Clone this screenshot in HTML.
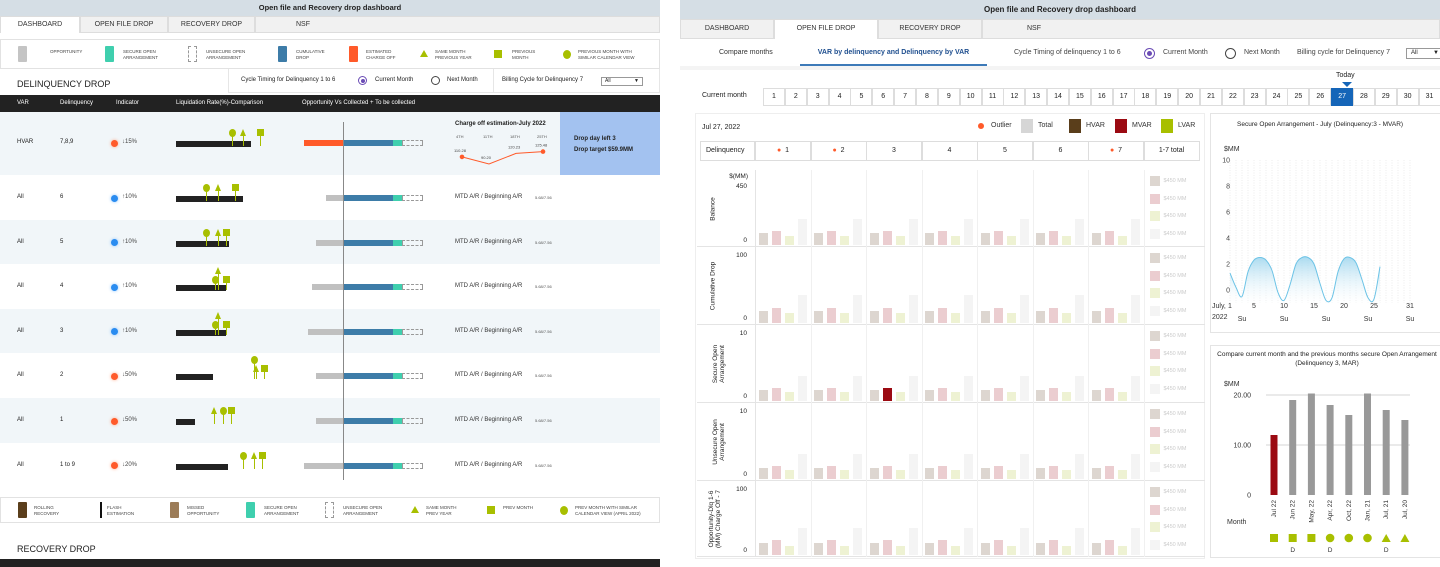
<!DOCTYPE html>
<html><head><meta charset="utf-8">
<style>
*{box-sizing:border-box;margin:0;padding:0}
body{width:1440px;height:567px;overflow:hidden;background:#fff;font-family:"Liberation Sans",sans-serif;color:#222;position:relative}
.a{position:absolute;white-space:nowrap}
.tab{position:absolute;background:#f1f1f1;border:1px solid #ddd;font-size:7px;text-align:center;color:#333}
.s{font-size:7px}
</style></head><body>
<!-- LEFT PANEL -->
<div class="a" style="left:0;top:0;width:660px;height:16px;background:#d5dee5;font-size:7.5px;font-weight:bold;text-align:center;line-height:16px">Open file and Recovery drop dashboard</div>
<div class="tab" style="left:0;top:16px;width:80px;height:17px;line-height:15px;background:#fff;border-bottom:none">DASHBOARD</div>
<div class="tab" style="left:80px;top:16px;width:88px;height:17px;line-height:15px">OPEN FILE DROP</div>
<div class="tab" style="left:168px;top:16px;width:87px;height:17px;line-height:15px">RECOVERY DROP</div>
<div class="tab" style="left:255px;top:16px;width:405px;height:17px;line-height:15px;text-align:left;padding-left:40px">NSF</div>
<div class="a" style="left:0;top:39px;width:660px;height:30px;border:1px solid #e2e2e2"></div>
<div class="a" id="toplg"></div>
<div class="a" style="left:17px;top:79px;font-size:9px">DELINQUENCY DROP</div>
<div class="a" style="left:228px;top:69px;width:432px;height:24px;border:1px solid #e6e6e6;border-top:none"></div>
<div class="a" style="left:493px;top:69px;width:1px;height:24px;background:#e6e6e6"></div>
<div class="a s" style="left:241px;top:77px;font-size:6px">Cycle Timing for Delinquency 1 to 6</div>
<div class="a" style="left:358px;top:76px;width:9px;height:9px;border:1px solid #6a4bb5;border-radius:50%"><div style="margin:1.5px;width:4px;height:4px;border-radius:50%;background:#6a4bb5"></div></div>
<div class="a" style="left:375px;top:77px;font-size:6px">Current Month</div>
<div class="a" style="left:431px;top:76px;width:9px;height:9px;border:1px solid #444;border-radius:50%"></div>
<div class="a" style="left:447px;top:77px;font-size:6px">Next Month</div>
<div class="a" style="left:502px;top:77px;font-size:6px">Billing Cycle for Delinquency 7</div>
<div class="a" style="left:601px;top:77px;width:42px;height:9px;border:1px solid #999;font-size:5px;line-height:7px;padding-left:3px">All<span style="position:absolute;right:3px">▼</span></div>
<div class="a" style="left:0;top:95px;width:660px;height:17px;background:#222;color:#fff;font-size:6px;line-height:17px">
<span class="a" style="left:17px">VAR</span><span class="a" style="left:60px">Delinquency</span><span class="a" style="left:116px">Indicator</span><span class="a" style="left:176px">Liquidation Rate(%)-Comparison</span><span class="a" style="left:302px">Opportunity Vs Collected + To be collected</span></div>
<div id="rows"></div>
<div class="a" style="left:560px;top:112px;width:100px;height:63px;background:#a3c2f0;font-size:6px;font-weight:bold;padding:22px 0 0 14px;line-height:11px">Drop day left 3<br>Drop target $59.9MM</div>
<div class="a" style="left:455px;top:121px;font-size:6px;font-weight:bold">Charge off estimation-July 2022</div>
<svg class="a" style="left:440px;top:130px" width="120" height="45" id="co"></svg>
<div class="a" style="left:343px;top:122px;width:1px;height:358px;background:#888"></div>
<div class="a" style="left:0;top:497px;width:660px;height:26px;border:1px solid #e2e2e2"></div>
<div class="a" id="botlg"></div>
<div class="a" style="left:17px;top:544px;font-size:9px">RECOVERY DROP</div>
<div class="a" style="left:0;top:559px;width:660px;height:8px;background:#222"></div>

<!-- RIGHT PANEL -->
<div class="a" style="left:680px;top:0;width:760px;height:19px;background:#d5dee5;font-size:8px;font-weight:bold;text-align:center;line-height:19px">Open file and Recovery drop dashboard</div>
<div class="tab" style="left:680px;top:19px;width:94px;height:20px;line-height:18px">DASHBOARD</div>
<div class="tab" style="left:774px;top:19px;width:104px;height:20px;line-height:18px;background:#fff;border-bottom:none">OPEN FILE DROP</div>
<div class="tab" style="left:878px;top:19px;width:104px;height:20px;line-height:18px">RECOVERY DROP</div>
<div class="tab" style="left:982px;top:19px;width:458px;height:20px;line-height:18px;text-align:left;padding-left:44px">NSF</div>
<div class="a" style="left:680px;top:66px;width:760px;height:4px;background:#f4f4f4"></div>
<div class="a" style="left:719px;top:49px;font-size:7px;color:#333">Compare months</div>
<div class="a" style="left:800px;top:49px;width:187px;height:17px;font-size:7px;font-weight:bold;color:#1f4f8f;text-align:center;border-bottom:2px solid #3d7ab8">VAR by delinquency and Delinquency by VAR</div>
<div class="a" style="left:1014px;top:49px;font-size:7px;color:#444">Cycle Timing of delinquency 1 to 6</div>
<div class="a" style="left:1144px;top:48px;width:11px;height:11px;border:1px solid #6a4bb5;border-radius:50%"><div style="margin:2px;width:5px;height:5px;border-radius:50%;background:#6a4bb5"></div></div>
<div class="a" style="left:1163px;top:49px;font-size:7px;color:#444">Current Month</div>
<div class="a" style="left:1225px;top:48px;width:11px;height:11px;border:1px solid #444;border-radius:50%"></div>
<div class="a" style="left:1244px;top:49px;font-size:7px;color:#444">Next Month</div>
<div class="a" style="left:1297px;top:49px;font-size:7px;color:#444">Billing cycle for Delinquency 7</div>
<div class="a" style="left:1406px;top:48px;width:40px;height:11px;border:1px solid #999;font-size:6px;line-height:9px;padding-left:4px">All<span style="position:absolute;left:26px">▼</span></div>
<div class="a" style="left:702px;top:92px;font-size:7px">Current month</div>
<div class="a" id="days"></div>
<div class="a" style="left:1336px;top:72px;font-size:7px">Today</div>
<div class="a" style="left:1342px;top:82px;width:0;height:0;border-left:5px solid transparent;border-right:5px solid transparent;border-top:5px solid #1565b8"></div>

<div class="a" style="left:695px;top:113px;width:510px;height:446px;border:1px solid #eee"></div>
<div class="a" style="left:702px;top:124px;font-size:7px">Jul 27, 2022</div>
<div class="a" id="mlg" style="left:0;top:0"></div>
<div class="a" id="dhdr"></div>
<div class="a" id="grid"></div>

<div class="a" style="left:1210px;top:113px;width:232px;height:220px;border:1px solid #e4e4e4"></div>
<div class="a" style="left:1237px;top:121px;font-size:6.5px">Secure Open Arrangement - July (Delinquency:3 - MVAR)</div>
<svg class="a" style="left:1210px;top:113px" width="230" height="220" id="dc"></svg>
<div class="a" style="left:1210px;top:345px;width:232px;height:213px;border:1px solid #e4e4e4"></div>
<div class="a" style="left:1214px;top:350px;width:226px;font-size:6.5px;text-align:center;white-space:normal;line-height:9px">Compare current month and the previous months secure Open Arrangement (Delinquency 3, MAR)</div>
<svg class="a" style="left:1210px;top:345px" width="230" height="213" id="cc"></svg>

<script>
// ---- left table data ----
const rowVar=["All","All","All","All","All","All","All"];
const rowDelq=["6","5","4","3","2","1","1 to 9"];
const rowInd=["↑10%","↑10%","↑10%","↑10%","↓50%","↓50%","↓20%"];
const rowUp=[1,1,1,1,0,0,0];
const liqRate=[67,53,50,50,37,19,52];
const oppVal=[17,27,31,35,27,27,39];
// ---- charge-off data ----
const coLabels=["4TH","11TH","18TH","25TH"];
const coVals=[110.28,90.2,120.23,125.48];
// ---- right grid ----
const delqCols=["1","2","3","4","5","6","7","1-7 total"];
const outlierCols=[1,1,0,0,0,0,1,0];
const metrics=["Balance","Cumulative Drop","Secure Open Arrangement","Unsecure Open Arrangement","Opportunity-Dlq 1-6 (MM) Charge Off - 7"];
const metricMax=[450,100,10,10,100];
const hvarVals=[95,22,2,2,22];
const mvarVals=[115,27,2.4,2.4,27];
const lvarVals=[75,17,1.6,1.6,17];
const totalVals=[215,50,4.5,4.5,50];
const highlightRow=2, highlightCol=2;
// ---- daily chart ----
const dayVals=[1.3,0.2,-0.5,1.4,2.3,2.5,2.3,1.5,-0.2,-0.8,0.4,2.0,2.5,2.5,2.0,0.5,-0.8,-0.6,1.4,2.4,2.5,2.1,0.8,-0.6,-0.7,1.8];
const dayTicks=[0,2,4,6,8,10];
// ---- compare chart ----
const cmpMonths=["Jul 22","Jun 22","May, 22","Apr, 22","Oct, 22","Jan, 21","Jul, 21","Jul, 20"];
const cmpVals=[12,19,20.3,18,16,20.3,17,15];
const cmpMarks=["sq","sq","sq","ci","ci","ci","tr","tr"];
const cmpD=["","D","","D","","","D",""];

const NS="http://www.w3.org/2000/svg";
function div(parent,css,txt){const d=document.createElement('div');d.className='a';d.style.cssText=css;if(txt!=null)d.textContent=txt;parent.appendChild(d);return d;}
function sv(p,tag,at){const e=document.createElementNS(NS,tag);for(const k in at)e.setAttribute(k,at[k]);p.appendChild(e);return e;}
const G='#a8bf00';

// legends
const topItems=[["sw","#c4c4c4","","OPPORTUNITY",18,50],["sw","#3fcfae","","SECURE OPEN\nARRANGEMENT",105,123],["dash","","","UNSECURE OPEN\nARRANGEMENT",188,206],["sw","#3d7ca8","","CUMULATIVE\nDROP",278,296],["sw","#ff5a2a","","ESTIMATED\nCHARGE OFF",349,366],["tr","","","SAME MONTH\nPREVIOUS YEAR",420,435],["sq","","","PREVIOUS\nMONTH",494,512],["ci","","","PREVIOUS MONTH WITH\nSIMILAR CALENDAR VIEW",563,578]];
const botItems=[["sw","#5a3e1b","","ROLLING\nRECOVERY",18,34],["ln","","","FLASH\nESTIMATION",100,107],["sw","#9c7c58","","MISSED\nOPPORTUNITY",170,187],["sw","#3fcfae","","SECURE OPEN\nARRANGEMENT",246,264],["dash","","","UNSECURE OPEN\nARRANGEMENT",325,343],["tr","","","SAME MONTH\nPREV YEAR",411,426],["sq","","","PREV MONTH",487,503],["ci","","","PREV MONTH WITH SIMILAR\nCALENDAR VIEW (APRIL 2022)",560,575]];
function legend(items,cy,host){
 items.forEach(it=>{let d;const[k,c,,t,x,tx]=it;
  if(k=="sw")d=div(host,`left:${x}px;top:${cy-8}px;width:9px;height:16px;background:${c};border-radius:1px`);
  if(k=="dash")d=div(host,`left:${x}px;top:${cy-8}px;width:9px;height:16px;border:1px dashed #999`);
  if(k=="ln")d=div(host,`left:${x}px;top:${cy-8}px;width:1.5px;height:16px;background:#111`);
  if(k=="tr")d=div(host,`left:${x}px;top:${cy-4}px;width:0;height:0;border-left:4px solid transparent;border-right:4px solid transparent;border-bottom:7px solid ${G}`);
  if(k=="sq")d=div(host,`left:${x}px;top:${cy-4}px;width:8px;height:8px;background:${G}`);
  if(k=="ci")d=div(host,`left:${x}px;top:${cy-4}px;width:8px;height:9px;border-radius:50%;background:${G}`);
  
  
  const l=div(host,`left:${tx}px;top:${cy-5}px;font-size:4.5px;line-height:5.5px;color:#444;white-space:pre`,t);
  
  
 });
}
legend(topItems,54,document.getElementById('toplg'));
legend(botItems,510,document.getElementById('botlg'));

// rows
const rows=document.getElementById('rows');
const mk=[[[203,-1],[215,-1],[232,-1]],[[203,-1],[215,-1],[223,-1]],[[212,0],[215,-2],[223,0]],[[212,0],[215,-2],[223,0]],[[251,-2],[253,0],[261,0]],[[220,-1],[211,-1],[228,-1]],[[240,-1],[251,-1],[259,-1]]];
const offMap={"0":-10,"-1":-13,"-2":-19};
function markers(host,cy,set){
 const types=["ci","tr","sq"];
 set.forEach((m,i)=>{const x=m[0],top=cy+offMap[String(m[1])];
  const st=div(host,`left:${x+3}px;top:${top+4}px;width:1px;height:${cy+3-top-4}px;background:${G}`);
  
  
  let d;
  if(types[i]=="ci")d=div(host,`left:${x}px;top:${top-1}px;width:7px;height:8px;border-radius:50%;background:${G}`);
  if(types[i]=="tr")d=div(host,`left:${x}px;top:${top-1}px;width:0;height:0;border-left:3.5px solid transparent;border-right:3.5px solid transparent;border-bottom:7px solid ${G}`);
  if(types[i]=="sq")d=div(host,`left:${x}px;top:${top-1}px;width:7px;height:7px;background:${G}`);
  
  
 });
}
function bars(host,cy,opp,orange){
 const b1=div(host,`left:${343-opp}px;top:${cy-3}px;width:${opp}px;height:6px;background:${orange?'#ff5a2a':'#c0c0c0'}`);
 
 
 const b2=div(host,`left:343px;top:${cy-3}px;width:50px;height:6px;background:#3d7ca8`);
 
 
 const b3=div(host,`left:393px;top:${cy-3}px;width:9px;height:6px;background:#3fcfae`);
 
 
 const b4=div(host,`left:402px;top:${cy-3}px;width:21px;height:6px;border:1px dashed #999`);
 
 
}
function liq(host,cy,w){const d=div(host,`left:176px;top:${cy-2}px;width:${w}px;height:6px;background:#222`);
 
 }
function ind(host,cy,up,t){const d=div(host,`left:111px;top:${cy-3.5}px;width:7px;height:7px;border-radius:50%;background:${up?'#2a8cf0':'#ff5a2a'};box-shadow:0 0 3px ${up?'#8cc4ff':'#ffaa88'}`);
 
 
 const l=div(host,`left:122px;top:${cy-4}px;font-size:6px;color:#444`,t);
 
 }
// HVAR row
const hv=div(rows,`left:0;top:112px;width:560px;height:63px;background:#f1f6f9`);


let c=143;
div(rows,`left:17px;top:${c-4}px;font-size:6px`,"HVAR");
div(rows,`left:60px;top:${c-4}px;font-size:6px`,"7,8,9");
ind(rows,c,0,"↓15%");liq(rows,c,75);bars(rows,c,39,true);
markers(rows,c,[[229,-1],[240,-1],[257,-1]]);
for(let i=0;i<rowDelq.length;i++){
 const top=175+i*44.6, cy=top+23;
 const r=div(rows,`left:0;top:${top}px;width:660px;height:45px;background:${i%2?'#f1f6f9':'#fff'}`);
 
 
 div(rows,`left:17px;top:${cy-4}px;font-size:6px`,rowVar[i]);
 div(rows,`left:60px;top:${cy-4}px;font-size:6px`,rowDelq[i]);
 ind(rows,cy,rowUp[i],rowInd[i]);
 liq(rows,cy,liqRate[i]);
 bars(rows,cy,oppVal[i],false);
 markers(rows,cy,mk[i]);
 div(rows,`left:455px;top:${cy-4}px;font-size:6px;color:#333`,"MTD A/R / Beginning A/R");
 div(rows,`left:535px;top:${cy-3}px;font-size:4px;color:#555`,"5.68/7.56");
}
// charge off chart
const co=document.getElementById('co');
const coX=i=>22+i*27, coY=v=>34-(v-90)*0.35;
coLabels.forEach((l,i)=>{const t=sv(co,'text',{x:coX(i)-6,y:8,'font-size':4,fill:'#555'});t.textContent=l;});
let pts=[];coVals.forEach((v,i)=>pts.push(coX(i)+','+coY(v)));
sv(co,'polyline',{points:pts.join(' '),fill:'none',stroke:'#ff5a2a','stroke-width':1});
coVals.forEach((v,i)=>{
 if(i==0||i==3)sv(co,'circle',{cx:coX(i),cy:coY(v),r:2.3,fill:'#ff5a2a'});
 const t=sv(co,'text',{x:coX(i)-8,y:coY(v)-5,'font-size':4,fill:'#444'});t.textContent=v.toFixed(2);});

// days
const days=document.getElementById('days');
for(let d=1;d<=31;d++){const x=763+(d-1)*21.85;
 const e=div(days,`left:${x}px;top:88px;width:22px;height:18px;border:1px solid #ddd;font-size:7px;text-align:center;line-height:16px;${d==27?'background:#1565b8;color:#fff;border-color:#1565b8':''}`,String(d));
 
 }
// main legend
const mlg=document.getElementById('mlg');
[["ci","#ff5a2a","Outlier",978],["sw","#d6d6d6","Total",1021],["sw","#5a3e1b","HVAR",1069],["sw","#9b0a12","MVAR",1115],["sw","#a8bf00","LVAR",1161]].forEach(it=>{
 const d=div(mlg,it[0]=="ci"?`left:${it[3]}px;top:123px;width:6px;height:6px;border-radius:50%;background:${it[1]}`:`left:${it[3]}px;top:119px;width:12px;height:14px;background:${it[1]}`);
 
 
 const l=div(mlg,`left:${it[3]+(it[0]=="ci"?13:17)}px;top:122px;font-size:7px;color:#333`,it[2]);
 
 });
// delinquency header
const dh=document.getElementById('dhdr');
const h0=div(dh,`left:700px;top:141px;width:55px;height:20px;border:1px solid #ddd;font-size:7px;line-height:18px;padding-left:5px`,"Delinquency");


delqCols.forEach((d,i)=>{const x=755+i*55.5;
 const e=div(dh,`left:${x}px;top:141px;width:56px;height:20px;border:1px solid #ddd;font-size:7px;line-height:18px;text-align:center`,d);
 if(outlierCols[i])e.innerHTML='<span style="color:#ff5a2a">●</span>&nbsp; '+d;
 
 });
// grid
const grid=document.getElementById('grid');
const rowTops=[170,247,325,403,481], rowH=[77,78,78,78,76];
const ticksTop=["450","100","10","10","100"];
const colX=i=>755+i*55.5;
metrics.forEach((m,r)=>{
 const top=rowTops[r], base=top+rowH[r]-2, plotH=rowH[r]-22;
 const yS=v=>v/metricMax[r]*plotH;
 const rb=div(grid,`left:697px;top:${top}px;width:508px;height:${rowH[r]}px;border-bottom:1px solid #e4e4e4`);
 
 
 const lb=div(grid,`left:${697+(r==4?4:8)}px;top:${top+rowH[r]/2}px;width:${rowH[r]-6}px;font-size:6.5px;text-align:center;white-space:normal;line-height:7px;transform:translate(-50%,-50%) rotate(-90deg);transform-origin:center;margin-left:${r>=2?14:8}px`,m);
 
 
 if(r==0){const u=div(grid,`left:720px;top:${top+3}px;font-size:6.5px;width:28px;text-align:right`,"$(MM)");}
 const t1=div(grid,`left:720px;top:${r==0?top+13:top+5}px;width:27px;text-align:right;font-size:6.5px`,ticksTop[r]);
 
 
 const t0=div(grid,`left:720px;top:${base-8}px;width:27px;text-align:right;font-size:6.5px`,"0");
 
 
 for(let c=0;c<7;c++){const x=colX(c);
  const sep=div(grid,`left:${x}px;top:${top}px;width:1px;height:${rowH[r]}px;background:#f0f0f0`);
  
  
  const vals=[hvarVals[r],mvarVals[r],lvarVals[r],totalVals[r]];
  const cols=['#ddd6d0','#ebcdd0','#eef2d3','#f4f4f4'];
  vals.forEach((v,k)=>{const h=yS(v);
   const col=(r==highlightRow&&c==highlightCol&&k==1)?'#9b0a12':cols[k];
   const b=div(grid,`left:${x+3.5+k*13}px;top:${base-h}px;width:9px;height:${h}px;background:${col}`);
   
   });
 }
 const lgx=colX(7);
 const sep=div(grid,`left:${lgx}px;top:${top}px;width:1px;height:${rowH[r]}px;background:#f0f0f0`);
 
 
 ['#ddd6d0','#ebcdd0','#eef2d3','#f4f4f4'].forEach((cc,k)=>{
  const s=div(grid,`left:${lgx+6}px;top:${top+6+k*17.5}px;width:10px;height:10px;background:${cc}`);
  
  
  const l=div(grid,`left:${lgx+20}px;top:${top+8+k*17.5}px;font-size:5.5px;color:#ccc`,"$450 MM");
  
  });
 const vl=div(grid,`left:755px;top:${top}px;width:1px;height:${rowH[r]}px;background:#e4e4e4`);
 
 
});

// daily chart
const dc=document.getElementById('dc');
const dx=d=>20+(d-1)*6, dy=v=>177-13*v;
const df=sv(dc,'defs',{});const lgd=sv(df,'linearGradient',{id:'gf',x1:0,y1:0,x2:0,y2:1});
sv(lgd,'stop',{offset:'0','stop-color':'#9fd6ee','stop-opacity':0.9});sv(lgd,'stop',{offset:'1','stop-color':'#fff','stop-opacity':0.2});
let t=sv(dc,'text',{x:14,y:38,'font-size':7,fill:'#333'});t.textContent='$MM';
dayTicks.forEach(v=>{const tt=sv(dc,'text',{x:20,y:dy(v)+2.5,'font-size':7,fill:'#444','text-anchor':'end'});tt.textContent=v;});
for(let d=1;d<=31;d++)sv(dc,'line',{x1:dx(d),x2:dx(d),y1:dy(10),y2:dy(-1),stroke:'#e2e2e2','stroke-dasharray':'1,1.5','stroke-width':0.6});
function smooth(p){let s=`M${p[0][0]},${p[0][1]}`;for(let i=0;i<p.length-1;i++){const p0=p[i-1]||p[i],p1=p[i],p2=p[i+1],p3=p[i+2]||p2;
 s+=` C${p1[0]+(p2[0]-p0[0])/6},${p1[1]+(p2[1]-p0[1])/6} ${p2[0]-(p3[0]-p1[0])/6},${p2[1]-(p3[1]-p1[1])/6} ${p2[0]},${p2[1]}`;}return s;}
const dp=dayVals.map((v,i)=>[dx(i+1),dy(v)]);
const sm=smooth(dp);
sv(dc,'path',{d:sm+` L${dp[dp.length-1][0]},${dy(-1)} L${dp[0][0]},${dy(-1)} Z`,fill:'url(#gf)'});
sv(dc,'path',{d:sm,fill:'none',stroke:'#6cc3e6','stroke-width':1});
[1,5,10,15,20,25,31].forEach(d=>{const tt=sv(dc,'text',{x:dx(d),y:195,'font-size':7,fill:'#333','text-anchor':'middle'});tt.textContent=d;});
[3,10,17,24,31].forEach(d=>{const tt=sv(dc,'text',{x:dx(d),y:208,'font-size':7,fill:'#333','text-anchor':'middle'});tt.textContent='Su';});
t=sv(dc,'text',{x:2,y:195,'font-size':7,fill:'#333'});t.textContent='July,';
t=sv(dc,'text',{x:2,y:206,'font-size':7,fill:'#333'});t.textContent='2022';

// compare chart
const cc=document.getElementById('cc');
const cx=i=>64+i*18.7, cyy=v=>150-5*v;
t=sv(cc,'text',{x:14,y:41,'font-size':7,fill:'#333'});t.textContent='$MM';
[[20,'20.00'],[10,'10.00'],[0,'0']].forEach(a=>{
 if(a[0])sv(cc,'line',{x1:56,x2:200,y1:cyy(a[0]),y2:cyy(a[0]),stroke:'#e4e4e4','stroke-width':1.5});
 const tt=sv(cc,'text',{x:41,y:cyy(a[0])+2.5,'font-size':7,fill:'#333','text-anchor':'end'});tt.textContent=a[1];});
cmpVals.forEach((v,i)=>{const r=sv(cc,'rect',{x:cx(i)-3.5,y:cyy(v),width:7,height:5*v,fill:i==0?'#9b0a12':'#999'});
 
 
 const tt=sv(cc,'text',{x:cx(i)+2,y:155,'font-size':6.5,fill:'#333','text-anchor':'end',transform:`rotate(-90 ${cx(i)+2} 155)`});tt.textContent=cmpMonths[i];
 const my=193;
 if(cmpMarks[i]=='sq')sv(cc,'rect',{x:cx(i)-4,y:my-4,width:8,height:8,fill:G});
 if(cmpMarks[i]=='ci')sv(cc,'circle',{cx:cx(i),cy:my,r:4.3,fill:G});
 if(cmpMarks[i]=='tr')sv(cc,'polygon',{points:`${cx(i)-4.5},${my+4} ${cx(i)+4.5},${my+4} ${cx(i)},${my-4}`,fill:G});
 if(cmpD[i]){const d=sv(cc,'text',{x:cx(i),y:207,'font-size':6.5,fill:'#333','text-anchor':'middle'});d.textContent=cmpD[i];}
});
t=sv(cc,'text',{x:17,y:179,'font-size':7,fill:'#333'});t.textContent='Month';
</script>
</body></html>
